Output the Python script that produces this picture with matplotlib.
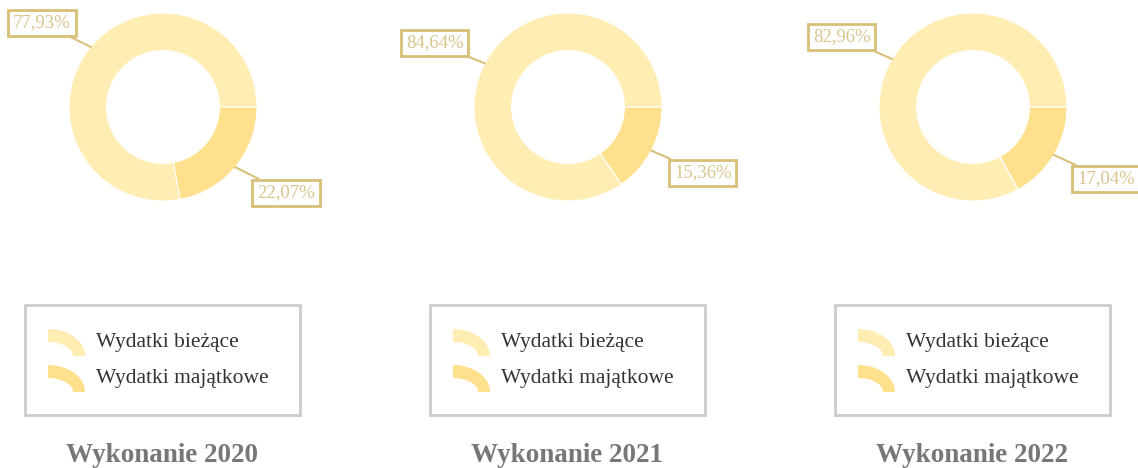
import numpy as np
import matplotlib.pyplot as plt
from matplotlib.patches import Rectangle, Polygon

# data
years = ['2020', '2021', '2022']
categories = ['Wydatki bieżące', 'Wydatki majątkowe']
biezace = [77.93, 84.64, 82.96]
majatkowe = [22.07, 15.36, 17.04]

colors = ['#ffedb3', '#ffe08c']
gold = '#d8c078'
label_color = '#d9c58c'

W, H = 1138, 468
fig = plt.figure(figsize=(W / 100, H / 100), dpi=100)
plt.rcParams['font.family'] = ['Liberation Serif', 'DejaVu Serif']

bg = fig.add_axes([0, 0, 1, 1])
bg.set_xlim(0, W)
bg.set_ylim(0, H)
bg.axis('off')

centers_x = [163, 568, 973]
center_y = 107
radius_px = 94
# label box centres, relative to pie radius
label_pos = [
    [(-1.287, 0.894), (1.309, -0.915)],
    [(-1.415, 0.681), (1.436, -0.702)],
    [(-1.394, 0.745), (1.415, -0.766)],
]
legend_left = [25, 430, 835]


def legend_icon(x0, y0, color):
    # quarter of an elliptical ring, like the legend icon in the source
    t = np.linspace(0, np.pi / 2, 30)
    outer = np.c_[x0 + 37 * np.cos(t), y0 + 27 * np.sin(t)]
    inner = np.c_[x0 + 25 * np.cos(t[::-1]), y0 + 14 * np.sin(t[::-1])]
    return Polygon(np.vstack([outer, inner]), closed=True, fc=color, ec='none')


for i, year in enumerate(years):
    cx = centers_x[i]
    ax = fig.add_axes([(cx - radius_px) / W, (H - center_y - radius_px) / H,
                       2 * radius_px / W, 2 * radius_px / H])
    vals = [biezace[i], majatkowe[i]]
    wedges, _ = ax.pie(vals, colors=colors, startangle=0, counterclock=True,
                       radius=1, wedgeprops=dict(width=0.40, edgecolor='white', linewidth=0.8))
    ax.set_xlim(-1, 1)
    ax.set_ylim(-1, 1)

    for j, w in enumerate(wedges):
        mid = np.deg2rad((w.theta1 + w.theta2) / 2)
        xy = (np.cos(mid) * 1.0, np.sin(mid) * 1.0)
        txt = f'{vals[j]:.2f}'.replace('.', ',') + '%'
        ax.annotate(txt, xy=xy, xytext=label_pos[i][j], ha='center', va='center',
                    fontsize=13.5, color=label_color, annotation_clip=False,
                    bbox=dict(boxstyle='square,pad=0.25', fc='white', ec=gold, lw=2),
                    arrowprops=dict(arrowstyle='-', color=gold, lw=1.5,
                                    shrinkA=0, shrinkB=0))

    # legend box
    lx = legend_left[i]
    bg.add_patch(Rectangle((lx, H - 415), 275, 110, fill=False, ec='#cccccc', lw=2))
    for k, cat in enumerate(categories):
        cy = 342 + k * 36
        bg.add_patch(legend_icon(lx + 23, H - cy - 14, colors[k]))
        bg.text(lx + 71, H - cy - 1, cat, fontsize=15.5, color='#333333', va='center', ha='left')

    bg.text(lx + 137.5, H - 455, f'Wykonanie {year}', fontsize=19.5, fontweight='bold',
            color='#777777', ha='center', va='center')

fig.savefig('out.png', dpi=100)
